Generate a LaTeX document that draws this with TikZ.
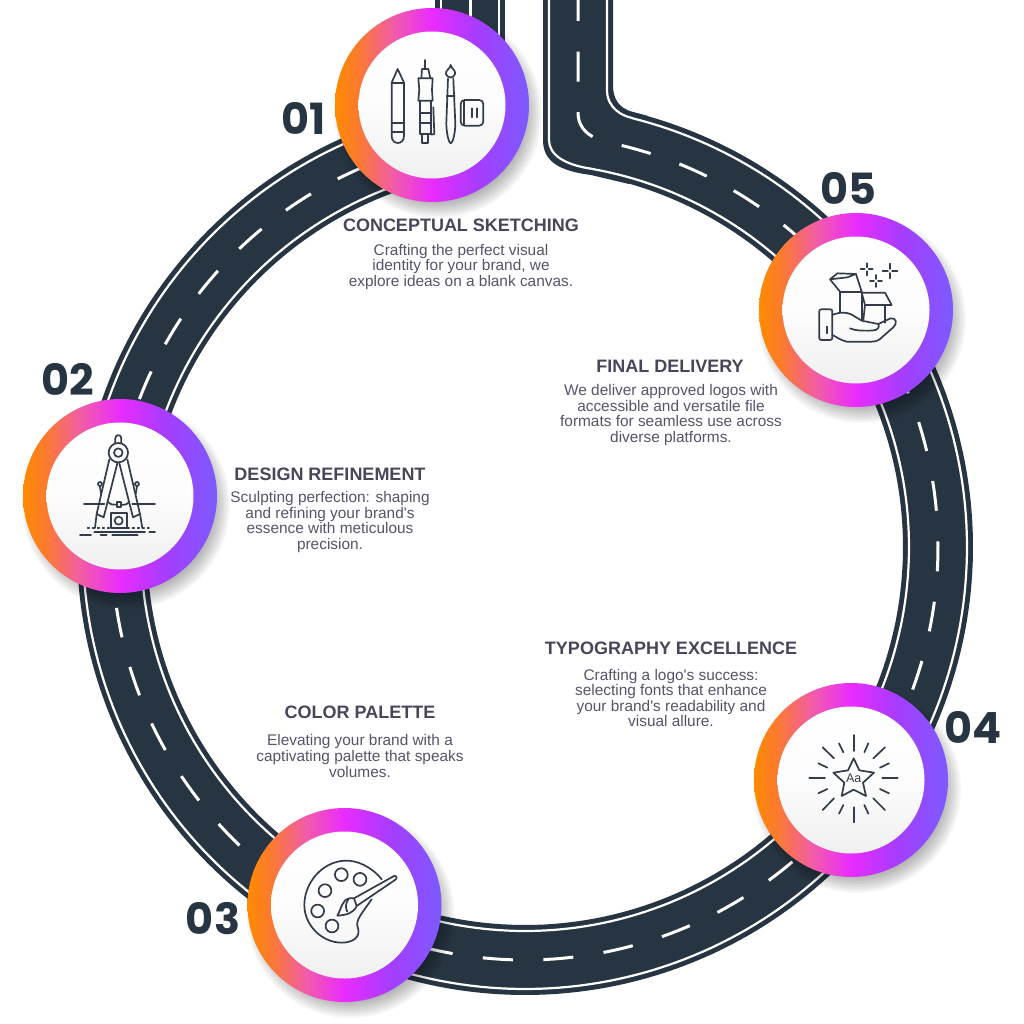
\documentclass[tikz,border=0pt]{standalone}
\usepackage{fontspec}
\setmainfont{Liberation Sans}
\newfontfamily\capfont{Liberation Sans}
\newfontfamily\numfont{Poppins}
\usetikzlibrary{calc}
\definecolor{roadc}{HTML}{273442}
\definecolor{headc}{HTML}{47465A}
\definecolor{bodyc}{HTML}{55546A}
\definecolor{iconc}{HTML}{323C4A}
\definecolor{ringa}{HTML}{FF8A00}
\definecolor{ringb}{HTML}{FB7A30}
\definecolor{ringc}{HTML}{F25CA8}
\definecolor{ringd}{HTML}{E92BFF}
\definecolor{ringe}{HTML}{A53DFF}
\definecolor{ringf}{HTML}{7B5BFF}
\pgfdeclarehorizontalshading{ringshade}{100bp}{color(0bp)=(ringa);color(25bp)=(ringa);color(31bp)=(ringb);color(40bp)=(ringc);color(50bp)=(ringd);color(62bp)=(ringe);color(75bp)=(ringf);color(100bp)=(ringf)}
\pgfdeclareverticalshading{discshade}{100bp}{color(0bp)=(black!6);color(25bp)=(black!6);color(50bp)=(black!1);color(75bp)=(white);color(100bp)=(white)}
\tikzset{
 ring/.style={circle,minimum size=194pt,inner sep=0pt,draw=none,shading=ringshade},
 disc/.style={circle,minimum size=147pt,inner sep=0pt,draw=none,shading=discshade},
 head/.style={font=\capfont\fontsize{18}{20}\selectfont\bfseries,text=headc,inner sep=0pt},
 bodytxt/.style={font=\capfont\fontsize{15.4}{15.6}\selectfont,text=bodyc,align=center,inner sep=0pt},
 numtxt/.style={font=\numfont\fontsize{43}{46}\selectfont\bfseries,text=roadc,inner sep=0pt},
 ico/.style={draw=iconc,line width=1.7pt,line cap=round,line join=round},
 edgeline/.style={draw=white,line width=2.2pt},
 midline/.style={draw=white,line width=3pt,dash pattern=on 30pt off 30.6pt},
}
\newcommand{\softshadow}[2]{%
 \foreach \rr in {88,90,...,104}{\fill[black,opacity=0.035] (#1+6,#2+9) circle[radius=\rr pt];}}
\begin{document}
\begin{tikzpicture}[x=1pt,y=-1pt]
\useasboundingbox (0,0) rectangle (1024,1024);
\fill[white] (0,0) rectangle (1024,1024);
% left stub
\fill[roadc] (435,0) rectangle (505,60);
\draw[edgeline] (441,0) -- (441,60);
\draw[edgeline] (499,0) -- (499,60);
\draw[midline,dash phase=9pt] (470,0) -- (470,60);
% right stub with its bend
\fill[roadc] (543,0) -- (543,140) .. controls (543,162) and (560,171) .. (591,175) -- (629,184) -- (648,116) -- (633,112) .. controls (618,108) and (613,98) .. (613,85) -- (613,0) -- cycle;
% road ring
\draw[roadc,line width=70pt] plot[domain=12:346,samples=260,variable=\t] ({525+413*sin(\t)},{547-413*cos(\t)});
\draw[edgeline] plot[domain=14:346,samples=260,variable=\t] ({525+442*sin(\t)},{547-442*cos(\t)});
\draw[edgeline] plot[domain=10:346,samples=260,variable=\t] ({525+384*sin(\t)},{547-384*cos(\t)});
\draw[edgeline] (549,0) -- (549,140) .. controls (549,155) and (565,165) .. (591.7,168.8);
\draw[edgeline] (607,0) -- (607,90) .. controls (607,108) and (622,116) .. (632,117.9);
% centre dashes
\draw[midline,dash phase=9pt] (578,0) -- (578,112) .. controls (578,130) and (590,138) .. (610,143) -- plot[domain=12:346,samples=280,variable=\t] ({525+413*sin(\t)},{547-413*cos(\t)});
% shadows
\softshadow{432}{105}
\softshadow{120}{496}
\softshadow{344.5}{905}
\softshadow{851}{780}
\softshadow{856}{310}
% medallions
\node[ring] (r1) at (432,105) {};
\node[ring] (r2) at (120,496) {};
\node[ring] (r3) at (344.5,905) {};
\node[ring] (r4) at (851,780) {};
\node[ring] (r5) at (856,310) {};
\node[disc] (d1) at (432,105) {};
\node[disc] (d2) at (120,496) {};
\node[disc] (d3) at (344.5,905) {};
\node[disc] (d4) at (851,780) {};
\node[disc] (d5) at (856,310) {};
% icon 1
\begin{scope}[shift={(320,0)},x=0.3333pt,y=-0.3333pt]
\draw[ico] (215,248) -- (233,207) -- (252,248) -- (252,408) .. controls (252,436) and (215,436) .. (215,408) -- cycle;
\draw[ico] (215,248) -- (252,248) (215,370) -- (252,370) (215,396) -- (252,396);
\draw[ico] (315,180) -- (315,205) (304,235) -- (306,207) -- (325,207) -- (331,235);
\draw[ico] (295,235) -- (338,235) -- (336,270) -- (338,302) -- (295,302) -- (298,270) -- cycle;
\draw[ico] (300,302) -- (300,402) -- (334,402) -- (334,302);
\draw[ico] (300,338) -- (334,338) (300,368) -- (334,368);
\draw[ico] (307,402) -- (307,430) -- (325,430) -- (325,402);
\draw[ico] (340,322) -- (343,402) -- (334,404);
\draw[ico] (392,195) .. controls (395,208) and (408,210) .. (405,222) .. controls (402,236) and (382,236) .. (378,222) .. controls (376,210) and (390,208) .. (392,195) -- cycle;
\draw[ico] (384,236) -- (379,370) .. controls (379,400) and (387,430) .. (392,430) .. controls (398,430) and (406,400) .. (406,370) -- (400,236);
\draw[ico] (380,288) -- (404,288);
\draw[ico,rounded corners=4pt] (422,300) rectangle (490,377);
\draw[ico] (432,302) -- (432,375) (456,325) -- (456,352) (470,325) -- (470,352);
\end{scope}
% icon 2
\begin{scope}[shift={(15,390)},x=0.3333pt,y=-0.3333pt]
\draw[ico] (301,160) -- (301,145) .. controls (301,132) and (319,132) .. (319,145) -- (319,160);
\draw[ico] (310,188) circle[radius=9.7pt];
\draw[ico] (310,188) circle[radius=4.3pt];
\draw[ico] (283,208) -- (245,372) -- (266,382) -- (307,220);
\draw[ico] (337,208) -- (375,372) -- (354,382) -- (313,220);
\draw[ico] (245,372) -- (240,414) (375,372) -- (382,414);
\draw[ico] (258,312) -- (255,290) (362,312) -- (366,290);
\draw[ico] (255,282) circle[radius=2pt] (366,282) circle[radius=2pt];
\draw[ico] (207,343) -- (268,343) (352,343) -- (420,343);
\draw[ico] (278,335) .. controls (288,345) and (295,345) .. (305,344) (317,344) .. controls (328,345) and (335,345) .. (343,335);
\draw[ico] (305,337) rectangle (318,351);
\draw[ico] (287,368) rectangle (335,414);
\draw[ico] (311,392) circle[radius=4pt];
\draw[ico,dash pattern=on 1.5pt off 3.5pt] (218,415) -- (402,415);
\draw[ico] (238,425) -- (390,425) (403,425) -- (420,425);
\draw[ico] (195,435) -- (228,435) (257,435) -- (275,435) (292,435) -- (368,435);
\end{scope}
% icon 3
\begin{scope}[shift={(240,800)},x=0.3333pt,y=-0.3333pt]
\draw[ico] (425,238) .. controls (395,200) and (350,180) .. (315,182) .. controls (245,185) and (193,250) .. (193,315) .. controls (193,375) and (245,428) .. (305,428) .. controls (340,428) and (362,410) .. (354,385) .. controls (345,362) and (362,345) .. (395,298);
\foreach \px/\py in {304/224,360/238,255/272,233/333,276/378}{\draw[ico] (\px,\py) circle[radius=6.4pt];}
\draw[ico] (342,295) -- (462,228) .. controls (472,226) and (472,236) .. (465,240) -- (350,318);
\draw[ico] (342,295) -- (328,295) .. controls (305,300) and (305,325) .. (292,347) .. controls (320,345) and (340,340) .. (350,318) -- cycle;
\draw[ico] (325,298) .. controls (316,310) and (316,325) .. (322,335);
\end{scope}
% icon 4
\begin{scope}[shift={(745,675)},x=0.3333pt,y=-0.3333pt]
\draw[ico] (326,250) -- (343,286) -- (387,293) -- (354,323) -- (363,363) -- (326,344) -- (290,363) -- (298,323) -- (265,293) -- (309,286) -- cycle;
\foreach \ax/\ay/\bx/\by in {326/180/326/228,326/397/326/442,412/310/458/310,193/310/240/310,385/250/420/217,267/250/233/217,385/370/420/405,267/370/233/405,358/232/370/205,295/232/282/205,405/278/432/265,247/278/220/265,405/342/432/355,247/342/220/355,358/390/370/416,295/390/282/416}{\draw[ico] (\ax,\ay) -- (\bx,\by);}
\node[font=\capfont\fontsize{12.5}{14}\selectfont,text=iconc,inner sep=0pt] (aa) at (326,311) {Aa};
\end{scope}
% icon 5
\begin{scope}[shift={(750,200)},x=0.3333pt,y=-0.3333pt]
\draw[ico,rounded corners=2pt] (208,328) rectangle (247,420);
\draw[ico] (231,380) -- (231,400);
\draw[ico] (247,345) .. controls (270,335) and (295,335) .. (315,350) -- (335,362) -- (385,372) .. controls (392,392) and (370,392) .. (355,392) .. controls (335,392) and (315,392) .. (300,385);
\draw[ico] (385,372) -- (422,355) .. controls (440,352) and (442,372) .. (430,382) -- (398,410) .. controls (388,420) and (380,425) .. (365,425) -- (290,425) .. controls (270,420) and (262,412) .. (247,405);
\draw[ico] (270,335) -- (270,275) -- (335,275) -- (335,360);
\draw[ico] (270,275) -- (240,238) -- (262,220) -- (318,222) -- (292,232) -- (240,238);
\draw[ico] (318,222) -- (335,275);
\draw[ico] (335,278) -- (405,278) -- (425,315) -- (345,315) -- (335,278);
\draw[ico] (345,315) -- (340,360) (405,315) -- (405,368);
\foreach \sx/\sy/\sz in {350/208/18,378/243/18,420/213/22}{\draw[ico] (\sx-\sz,\sy) -- (\sx-6,\sy) (\sx+6,\sy) -- (\sx+\sz,\sy) (\sx,\sy-\sz) -- (\sx,\sy-6) (\sx,\sy+6) -- (\sx,\sy+\sz);}
\end{scope}
% numbers
\node[numtxt] (n1) at (304,118) {01};
\node[numtxt] (n2) at (68,379) {02};
\node[numtxt] (n3) at (213,919) {03};
\node[numtxt] (n4) at (973,727) {04};
\node[numtxt] (n5) at (848,188) {05};
% captions
\node[head] (h1) at (461,225) {CONCEPTUAL SKETCHING};
\node[bodytxt] (b1) at (461,267) {Crafting the perfect visual\\identity for your brand, we\\explore ideas on a blank canvas.};
\node[head] (h2) at (330,474) {DESIGN REFINEMENT};
\node[bodytxt] (b2) at (330,522) {Sculpting perfection: shaping\\and refining your brand's\\essence with meticulous\\precision.};
\node[head] (h3) at (360,712) {COLOR PALETTE};
\node[bodytxt] (b3) at (360,756) {Elevating your brand with a\\captivating palette that speaks\\volumes.};
\node[head] (h4) at (671,648) {TYPOGRAPHY EXCELLENCE};
\node[bodytxt] (b4) at (671,698) {Crafting a logo's success:\\selecting fonts that enhance\\your brand's readability and\\visual allure.};
\node[head] (h5) at (670,366) {FINAL DELIVERY};
\node[bodytxt] (b5) at (671,415) {We deliver approved logos with\\accessible and versatile file\\formats for seamless use across\\diverse platforms.};
\end{tikzpicture}
\end{document}
